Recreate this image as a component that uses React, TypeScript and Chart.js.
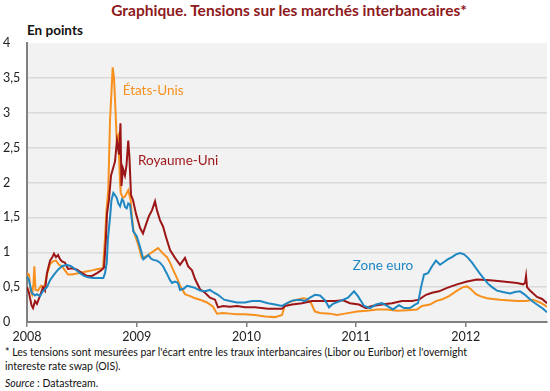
import React, { useEffect, useRef } from "react";
import { Chart, registerables } from "chart.js";

Chart.register(...registerables);

// ---------- data ----------
const yearTicks = [2008, 2009, 2010, 2011, 2012];

const ukDates = [
  2008.000, 2008.018, 2008.041, 2008.055, 2008.073, 2008.091, 2008.119, 2008.146, 2008.164, 2008.182,
  2008.210, 2008.228, 2008.246, 2008.264, 2008.283, 2008.301, 2008.319, 2008.346, 2008.374, 2008.410,
  2008.456, 2008.501, 2008.547, 2008.593, 2008.638, 2008.675, 2008.702, 2008.720, 2008.729, 2008.747,
  2008.766, 2008.784, 2008.802, 2008.820, 2008.839, 2008.852, 2008.861, 2008.875, 2008.893, 2008.907,
  2008.923, 2008.934, 2008.948, 2008.966, 2008.994, 2009.030, 2009.057, 2009.085, 2009.112, 2009.139,
  2009.167, 2009.185, 2009.212, 2009.240, 2009.267, 2009.304, 2009.349, 2009.395, 2009.440, 2009.468,
  2009.504, 2009.531, 2009.577, 2009.623, 2009.668, 2009.714, 2009.741, 2009.787, 2009.850, 2009.914,
  2009.987, 2010.078, 2010.197, 2010.325, 2010.352, 2010.416, 2010.507, 2010.598, 2010.689, 2010.808,
  2010.881, 2010.944, 2011.026, 2011.090, 2011.145, 2011.236, 2011.327, 2011.418, 2011.510, 2011.573,
  2011.637, 2011.692, 2011.756, 2011.829, 2011.920, 2012.011, 2012.102, 2012.221, 2012.339, 2012.467,
  2012.522, 2012.540, 2012.549, 2012.558, 2012.585, 2012.649, 2012.695, 2012.740,
];
const ukValues = [
  0.50, 0.42, 0.24, 0.20, 0.30, 0.26, 0.38, 0.50, 0.45, 0.70,
  0.88, 0.92, 0.98, 0.93, 0.96, 0.90, 0.87, 0.85, 0.76, 0.77,
  0.75, 0.70, 0.66, 0.66, 0.70, 0.74, 0.78, 1.20, 1.55, 1.75,
  2.10, 2.20, 2.30, 2.60, 2.40, 2.85, 1.95, 2.20, 2.10, 2.25,
  2.60, 2.35, 1.82, 1.75, 1.55, 1.35, 1.27, 1.40, 1.52, 1.60,
  1.73, 1.60, 1.46, 1.37, 1.22, 1.03, 0.92, 0.82, 0.92, 0.80,
  0.74, 0.62, 0.47, 0.42, 0.35, 0.32, 0.21, 0.23, 0.22, 0.23,
  0.21, 0.21, 0.19, 0.19, 0.23, 0.25, 0.27, 0.30, 0.30, 0.30,
  0.31, 0.27, 0.25, 0.20, 0.23, 0.25, 0.27, 0.30, 0.30, 0.32,
  0.39, 0.42, 0.44, 0.49, 0.54, 0.58, 0.61, 0.60, 0.58, 0.56,
  0.54, 0.56, 0.66, 0.50, 0.45, 0.36, 0.33, 0.27,
];

const usDates = [
  2008.000, 2008.018, 2008.032, 2008.046, 2008.059, 2008.067, 2008.077, 2008.100, 2008.128, 2008.155,
  2008.182, 2008.210, 2008.237, 2008.264, 2008.292, 2008.319, 2008.346, 2008.374, 2008.410, 2008.465,
  2008.529, 2008.593, 2008.647, 2008.693, 2008.711, 2008.725, 2008.741, 2008.757, 2008.770, 2008.781,
  2008.793, 2008.802, 2008.818, 2008.832, 2008.848, 2008.854, 2008.875, 2008.893, 2008.923, 2008.945,
  2008.957, 2008.969, 2008.994, 2009.015, 2009.046, 2009.067, 2009.094, 2009.130, 2009.158, 2009.194,
  2009.212, 2009.240, 2009.276, 2009.304, 2009.331, 2009.367, 2009.395, 2009.440, 2009.486, 2009.531,
  2009.577, 2009.641, 2009.696, 2009.732, 2009.787, 2009.850, 2009.914, 2009.987, 2010.078, 2010.170,
  2010.261, 2010.325, 2010.352, 2010.397, 2010.461, 2010.516, 2010.552, 2010.589, 2010.625, 2010.671,
  2010.762, 2010.826, 2010.899, 2011.008, 2011.099, 2011.191, 2011.282, 2011.373, 2011.464, 2011.555,
  2011.601, 2011.674, 2011.728, 2011.792, 2011.847, 2011.920, 2011.975, 2012.011, 2012.047, 2012.093,
  2012.130, 2012.193, 2012.248, 2012.312, 2012.403, 2012.476, 2012.549, 2012.612, 2012.677, 2012.740,
];
const usValues = [
  0.70, 0.68, 0.46, 0.40, 0.55, 0.80, 0.46, 0.45, 0.52, 0.48,
  0.68, 0.83, 0.87, 0.88, 0.82, 0.80, 0.74, 0.68, 0.68, 0.70,
  0.72, 0.74, 0.76, 0.77, 1.20, 1.60, 1.90, 2.90, 3.30, 3.65,
  3.50, 3.20, 2.60, 2.66, 2.00, 1.85, 1.78, 1.80, 1.89, 1.75,
  1.50, 1.32, 1.20, 1.10, 0.92, 0.93, 0.95, 0.99, 1.02, 1.06,
  1.03, 0.98, 0.93, 0.85, 0.75, 0.63, 0.52, 0.40, 0.37, 0.34,
  0.32, 0.28, 0.22, 0.12, 0.13, 0.12, 0.11, 0.11, 0.10, 0.08,
  0.07, 0.10, 0.25, 0.29, 0.32, 0.34, 0.33, 0.27, 0.15, 0.13,
  0.12, 0.10, 0.12, 0.15, 0.16, 0.18, 0.18, 0.16, 0.17, 0.18,
  0.23, 0.25, 0.30, 0.33, 0.37, 0.45, 0.50, 0.51, 0.47, 0.40,
  0.37, 0.34, 0.33, 0.32, 0.31, 0.30, 0.30, 0.32, 0.28, 0.22,
];

const euDates = [
  2008.000, 2008.018, 2008.043, 2008.073, 2008.091, 2008.119, 2008.149, 2008.182, 2008.210, 2008.246,
  2008.283, 2008.319, 2008.362, 2008.401, 2008.438, 2008.483, 2008.520, 2008.556, 2008.602, 2008.647,
  2008.696, 2008.711, 2008.727, 2008.738, 2008.757, 2008.770, 2008.787, 2008.802, 2008.818, 2008.832,
  2008.848, 2008.866, 2008.878, 2008.893, 2008.909, 2008.923, 2008.939, 2008.953, 2008.969, 2009.000,
  2009.030, 2009.060, 2009.085, 2009.106, 2009.130, 2009.151, 2009.185, 2009.212, 2009.240, 2009.273,
  2009.304, 2009.322, 2009.349, 2009.376, 2009.395, 2009.431, 2009.459, 2009.486, 2009.531, 2009.577,
  2009.623, 2009.668, 2009.705, 2009.741, 2009.796, 2009.850, 2009.914, 2009.987, 2010.051, 2010.124,
  2010.197, 2010.261, 2010.325, 2010.370, 2010.425, 2010.489, 2010.534, 2010.580, 2010.625, 2010.671,
  2010.717, 2010.753, 2010.789, 2010.853, 2010.926, 2010.981, 2011.017, 2011.072, 2011.127, 2011.181,
  2011.236, 2011.282, 2011.336, 2011.391, 2011.437, 2011.491, 2011.537, 2011.564, 2011.592, 2011.619,
  2011.655, 2011.692, 2011.728, 2011.765, 2011.801, 2011.838, 2011.874, 2011.911, 2011.947, 2011.984,
  2012.020, 2012.057, 2012.093, 2012.130, 2012.166, 2012.202, 2012.239, 2012.284, 2012.339, 2012.403,
  2012.448, 2012.494, 2012.531, 2012.567, 2012.612, 2012.658, 2012.704, 2012.740,
];
const euValues = [
  0.65, 0.60, 0.42, 0.38, 0.40, 0.37, 0.45, 0.50, 0.60, 0.68,
  0.75, 0.80, 0.82, 0.80, 0.76, 0.70, 0.66, 0.64, 0.63, 0.63,
  0.63, 0.70, 0.85, 1.20, 1.50, 1.75, 1.85, 1.82, 1.78, 1.70,
  1.66, 1.76, 1.74, 1.65, 1.63, 1.70, 1.68, 1.50, 1.30, 1.23,
  1.08, 0.90, 0.93, 0.96, 0.91, 0.89, 0.88, 0.85, 0.80, 0.70,
  0.60, 0.56, 0.58, 0.56, 0.46, 0.48, 0.52, 0.51, 0.49, 0.45,
  0.44, 0.46, 0.42, 0.39, 0.32, 0.30, 0.28, 0.28, 0.30, 0.30,
  0.27, 0.25, 0.23, 0.27, 0.31, 0.32, 0.30, 0.35, 0.39, 0.38,
  0.31, 0.21, 0.26, 0.30, 0.35, 0.44, 0.37, 0.23, 0.20, 0.25,
  0.27, 0.23, 0.18, 0.24, 0.20, 0.20, 0.25, 0.27, 0.50, 0.68,
  0.70, 0.80, 0.88, 0.82, 0.86, 0.90, 0.93, 0.97, 0.99, 0.97,
  0.92, 0.85, 0.77, 0.69, 0.62, 0.55, 0.50, 0.45, 0.43, 0.41,
  0.43, 0.44, 0.40, 0.35, 0.29, 0.24, 0.19, 0.14,
];

const seriesNames = ["Zone euro", "Royaume-Uni", "États-Unis"];
const labelAnchors = [
  { name: "États-Unis", x: 2008.872, y: 3.32 },
  { name: "Royaume-Uni", x: 2009.012, y: 2.32 },
  { name: "Zone euro", x: 2010.969, y: 0.81 },
];

const BLUE = "#1f87c2";
const RED = "#9c1517";
const ORANGE = "#f7901e";
const FONT = "Lato, 'Open Sans', sans-serif";

function pts(dates: number[], values: number[]) {
  return dates.map((d, i) => ({ x: d, y: values[i] }));
}

export default function App() {
  const canvasRef = useRef<HTMLCanvasElement | null>(null);

  useEffect(() => {
    const canvas = canvasRef.current;
    if (!canvas) return;

    const bgPlugin = {
      id: "plotBg",
      beforeDraw(chart: any) {
        const { ctx, chartArea } = chart;
        ctx.save();
        ctx.fillStyle = "#f2f2f2";
        ctx.fillRect(chartArea.left, chartArea.top, chartArea.right - chartArea.left, chartArea.bottom - chartArea.top);
        ctx.restore();
      },
    };

    const colorsByName: Record<string, string> = {
      "États-Unis": ORANGE,
      "Royaume-Uni": RED,
      "Zone euro": BLUE,
    };

    const labelPlugin = {
      id: "seriesLabels",
      afterDatasetsDraw(chart: any) {
        const { ctx, scales } = chart;
        ctx.save();
        ctx.font = `13.5px ${FONT}`;
        ctx.textAlign = "left";
        ctx.textBaseline = "middle";
        labelAnchors.forEach((a) => {
          ctx.fillStyle = colorsByName[a.name];
          ctx.fillText(a.name, scales.x.getPixelForValue(a.x), scales.y.getPixelForValue(a.y));
        });
        ctx.restore();
      },
    };

    const chart = new Chart(canvas, {
      type: "line",
      data: {
        datasets: [
          { label: seriesNames[0], data: pts(euDates, euValues), borderColor: BLUE, borderWidth: 2, pointRadius: 0, tension: 0, fill: false },
          { label: seriesNames[1], data: pts(ukDates, ukValues), borderColor: RED, borderWidth: 2, pointRadius: 0, tension: 0, fill: false },
          { label: seriesNames[2], data: pts(usDates, usValues), borderColor: ORANGE, borderWidth: 2, pointRadius: 0, tension: 0, fill: false },
        ],
      },
      options: {
        responsive: false,
        animation: false,
        layout: { padding: { left: 3, right: 3, top: 43, bottom: 0 } },
        plugins: { legend: { display: false }, tooltip: { enabled: false } },
        scales: {
          x: {
            type: "linear",
            min: 2008,
            max: 2012.74,
            afterBuildTicks: (s: any) => {
              s.ticks = yearTicks.map((v) => ({ value: v }));
            },
            afterFit: (s: any) => {
              s.height = 23;
            },
            ticks: {
              autoSkip: false,
              maxRotation: 0,
              padding: 2,
              color: "#222",
              font: { family: FONT, size: 12.5 },
              callback: (v: any) => String(v),
            },
            grid: { drawOnChartArea: false, drawTicks: true, tickLength: 5, color: "#808080", lineWidth: 1.5 },
            border: { display: true, color: "#808080", width: 2 },
          },
          y: {
            min: 0,
            max: 4,
            afterFit: (s: any) => {
              s.width = 24;
            },
            ticks: {
              stepSize: 0.5,
              crossAlign: "far",
              padding: 0,
              color: "#222",
              font: { family: FONT, size: 12.5 },
              callback: (v: any) => String(v).replace(".", ","),
            },
            grid: {
              drawTicks: false,
              lineWidth: 1.5,
              color: (c: any) => (c.tick && (c.tick.value === 0 || c.tick.value === 4) ? "rgba(0,0,0,0)" : "#dadada"),
            },
            border: { display: true, color: "#808080", width: 2 },
          },
        },
      },
      plugins: [bgPlugin, labelPlugin],
    } as any);

    return () => chart.destroy();
  }, []);

  return (
    <div style={{ position: "absolute", left: 0, top: 0, width: 550, height: 391, background: "#fff", fontFamily: FONT, overflow: "hidden" }}>
      <div style={{ position: "absolute", left: 0, top: 1, width: 550, textAlign: "center", color: "#8e1a1d", fontWeight: 700, fontSize: 15.5, lineHeight: "18px", paddingLeft: 28, boxSizing: "border-box" }}>
        Graphique. Tensions sur les marchés interbancaires*
      </div>
      <div style={{ position: "absolute", left: 27, top: 21, color: "#111", fontWeight: 700, fontSize: 13.5, lineHeight: "18px" }}>
        En points
      </div>
      <canvas ref={canvasRef} width={550} height={345} style={{ position: "absolute", left: 0, top: 0, width: 550, height: 345 }} />
      <div style={{ position: "absolute", left: 5, top: 345, color: "#111", fontSize: 10.5, lineHeight: "14px", width: 540 }}>
        * Les tensions sont mesurées par l'écart entre les traux interbancaires (Libor ou Euribor) et l'overnight
        <br />
        intereste rate swap (OIS).
      </div>
      <div style={{ position: "absolute", left: 5, top: 376, color: "#111", fontSize: 10.5, lineHeight: "14px" }}>
        <i>Source</i> : Datastream.
      </div>
    </div>
  );
}
